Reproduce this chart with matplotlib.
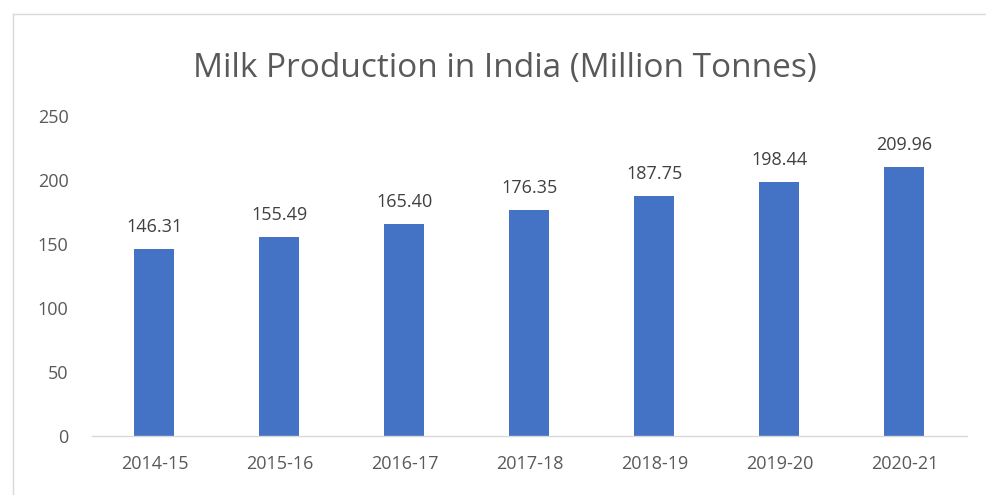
import matplotlib
matplotlib.use('Agg')
import matplotlib.pyplot as plt
from matplotlib.lines import Line2D

plt.rcParams['font.family'] = ['Open Sans', 'DejaVu Sans']

# data
years = ['2014-15', '2015-16', '2016-17', '2017-18', '2018-19', '2019-20', '2020-21']
production = [146.31, 155.49, 165.40, 176.35, 187.75, 198.44, 209.96]

BAR = '#4472C4'
TXT = '#595959'

W, H = 987, 495
fig = plt.figure(figsize=(W / 100, H / 100), dpi=100)
ax = fig.add_axes([92 / W, 1 - 436 / H, (967 - 92) / W, (436 - 116) / H])

x = range(len(years))
ax.bar(x, production, width=0.32, color=BAR)
for xi, v in zip(x, production):
    ax.text(xi, v + 10, f'{v:.2f}', ha='center', va='bottom', fontsize=13, color='#404040')

ax.set_xlim(-0.5, len(years) - 0.5)
ax.set_ylim(0, 250)
ax.set_yticks(range(0, 251, 50))
ax.set_xticks(list(x))
ax.set_xticklabels(years)
ax.tick_params(axis='both', length=0, labelsize=13, labelcolor=TXT)
ax.tick_params(axis='y', pad=17)
ax.tick_params(axis='x', pad=14)
for s in ['top', 'right', 'left']:
    ax.spines[s].set_visible(False)
ax.spines['bottom'].set_color('#d9d9d9')
ax.spines['bottom'].set_linewidth(1)

fig.text(505 / W, 1 - 68 / H, 'Milk Production in India (Million Tonnes)',
         ha='center', va='center', fontsize=24, color=TXT)

# outer chart frame (cropped at right and bottom)
fx, fy = 13.5 / W, 1 - 13.5 / H
fig.add_artist(Line2D([fx, fx], [0, fy], transform=fig.transFigure, color='#d9d9d9', lw=1))
fig.add_artist(Line2D([fx, 1], [fy, fy], transform=fig.transFigure, color='#d9d9d9', lw=1))

fig.savefig('out.png', dpi=100)
